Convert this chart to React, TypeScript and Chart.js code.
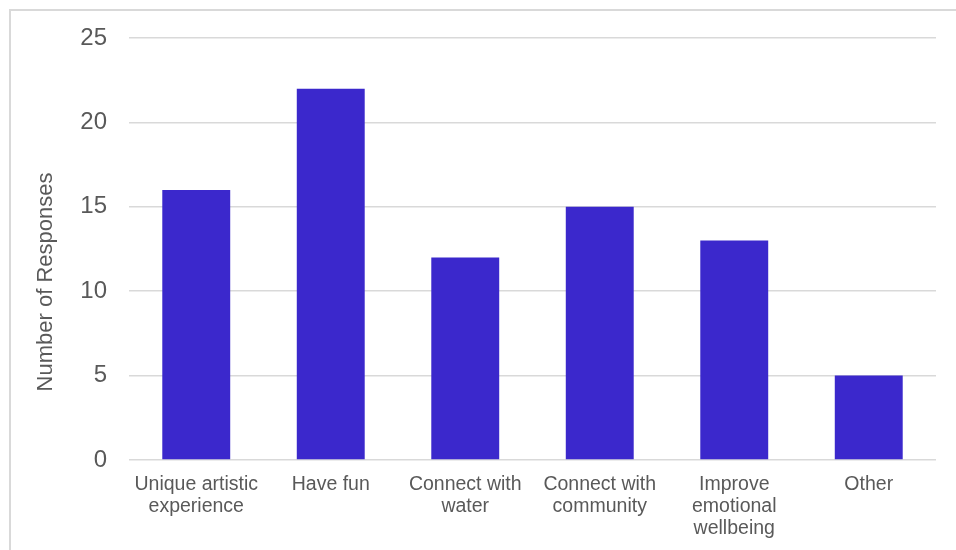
import React, { useEffect, useRef } from "react";
import { Chart, registerables } from "chart.js";

Chart.register(...registerables);

const categories: (string | string[])[] = [
  ["Unique artistic", "experience"],
  "Have fun",
  ["Connect with", "water"],
  ["Connect with", "community"],
  ["Improve", "emotional", "wellbeing"],
  "Other",
];
const responses: number[] = [16, 22, 12, 15, 13, 5];
const yTicks: number[] = [0, 5, 10, 15, 20, 25];
const yTitle = "Number of Responses";

const FONT = "'Liberation Sans', Arial, sans-serif";
const TEXT = "#595959";

const yTitlePlugin = {
  id: "yTitlePlugin",
  afterDraw(chart: any) {
    const ctx = chart.ctx;
    ctx.save();
    ctx.translate(46, 282);
    ctx.rotate(-Math.PI / 2);
    ctx.font = `22px ${FONT}`;
    ctx.fillStyle = TEXT;
    ctx.textAlign = "center";
    ctx.textBaseline = "middle";
    ctx.fillText(yTitle, 0, 0);
    ctx.restore();
  },
};

export default function App() {
  const ref = useRef<HTMLCanvasElement | null>(null);
  useEffect(() => {
    document.body.style.margin = "0";
    const chart = new Chart(ref.current as HTMLCanvasElement, {
      type: "bar",
      data: {
        labels: categories,
        datasets: [
          {
            data: responses,
            backgroundColor: "#3b28cc",
            barPercentage: 0.505,
            categoryPercentage: 1,
          },
        ],
      },
      options: {
        animation: false,
        responsive: false,
        maintainAspectRatio: false,
        layout: { padding: { top: 38, right: 20, bottom: 0, left: 0 } },
        plugins: { legend: { display: false }, tooltip: { enabled: false } },
        scales: {
          x: {
            grid: { display: false, drawTicks: false },
            border: { display: false },
            ticks: {
              padding: 14,
              color: TEXT,
              font: { family: FONT, size: 19.5, lineHeight: "22px" },
              maxRotation: 0,
              autoSkip: false,
            },
            afterFit(scale: any) {
              scale.height = 90;
            },
          },
          y: {
            min: 0,
            max: 25,
            afterBuildTicks(scale: any) {
              scale.ticks = yTicks.map((v) => ({ value: v }));
            },
            grid: { color: "#d9d9d9", lineWidth: 1.5, drawTicks: false },
            border: { display: false },
            ticks: {
              padding: 22,
              color: TEXT,
              font: { family: FONT, size: 24 },
            },
            afterFit(scale: any) {
              scale.width = 129;
            },
          },
        },
      },
      plugins: [yTitlePlugin],
    });
    return () => chart.destroy();
  }, []);

  return (
    <div style={{ position: "absolute", left: 0, top: 0, width: 956, height: 550, overflow: "hidden", background: "#fff" }}>
      <div
        style={{
          position: "absolute",
          left: 9,
          top: 9,
          width: 960,
          height: 560,
          borderTop: "2px solid #d9d9d9",
          borderLeft: "2px solid #d9d9d9",
        }}
      />
      <canvas ref={ref} width={956} height={550} style={{ position: "absolute", left: 0, top: 0 }} />
    </div>
  );
}
